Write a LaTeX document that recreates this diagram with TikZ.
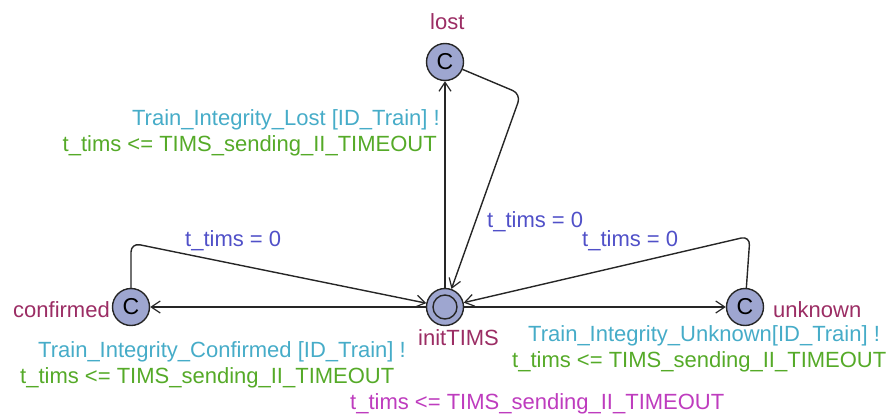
\documentclass[tikz,border=0pt]{standalone}
\usepackage{fontspec}
\setmainfont{Liberation Sans}
\usetikzlibrary{arrows.meta}
\definecolor{locname}{RGB}{155,45,100}
\definecolor{syncc}{RGB}{70,172,200}
\definecolor{guardc}{RGB}{85,170,40}
\definecolor{updc}{RGB}{80,80,200}
\definecolor{invc}{RGB}{190,60,190}
\definecolor{locfill}{RGB}{158,166,208}
\tikzset{
  loc/.style={circle,draw=black!85,line width=1.4pt,fill=locfill,minimum size=37pt,inner sep=0pt,font=\fontsize{23}{23}\selectfont},
  initloc/.style={loc,path picture={\draw[black!85,line width=1.4pt] (path picture bounding box.center) circle (12pt);}},
  lbl/.style={inner sep=0pt,font=\fontsize{22}{24}\selectfont,anchor=west},
  edge/.style={draw=black!85,line width=1.4pt,-{Straight Barb[length=9pt,width=12pt,line width=1.2pt]},rounded corners=9pt}
}
\begin{document}
\begin{tikzpicture}[x=1pt,y=-1pt]
\useasboundingbox (0,0) rectangle (890,417);
\node[loc] (lost) at (445,62) {C};
\node[initloc] (init) at (445,307) {};
\node[loc] (conf) at (131,307) {C};
\node[loc] (unk) at (745,307) {C};
\coordinate (n1) at (521,94);
\coordinate (n2) at (131,243);
\coordinate (n3) at (750,236);
% location names
\node[lbl,text=locname] (llost) at (430,22) {lost};
\node[lbl,text=locname] (linit) at (418,338) {initTIMS};
\node[lbl,text=locname,anchor=east] (lconf) at (110,310) {confirmed};
\node[lbl,text=locname] (lunk) at (773,310) {unknown};
\node[lbl,text=invc] (inv) at (350,404) {t\_tims <= TIMS\_sending\_II\_TIMEOUT};
% edges
\draw[edge] (init) -- (lost);
\draw[edge] (lost) -- (n1) -- (init);
\draw[edge] (init) -- (conf);
\draw[edge] (conf) -- (n2) -- (init);
\draw[edge] (init) -- (unk);
\draw[edge] (unk) -- (n3) -- (init);
% edge labels
\node[lbl,text=syncc,anchor=east] (s1) at (440,120) {Train\_Integrity\_Lost [ID\_Train] !};
\node[lbl,text=guardc,anchor=east] (g1) at (437,146) {t\_tims <= TIMS\_sending\_II\_TIMEOUT};
\node[lbl,text=updc] (u1) at (487,222) {t\_tims = 0};
\node[lbl,text=updc] (u2) at (185,241) {t\_tims = 0};
\node[lbl,text=updc] (u3) at (582,241) {t\_tims = 0};
\node[lbl,text=syncc] (s2) at (38,352) {Train\_Integrity\_Confirmed [ID\_Train] !};
\node[lbl,text=guardc] (g2) at (20,378) {t\_tims <= TIMS\_sending\_II\_TIMEOUT};
\node[lbl,text=syncc] (s3) at (528,336) {Train\_Integrity\_Unknown[ID\_Train] !};
\node[lbl,text=guardc] (g3) at (512,362) {t\_tims <= TIMS\_sending\_II\_TIMEOUT};
\end{tikzpicture}
\end{document}
